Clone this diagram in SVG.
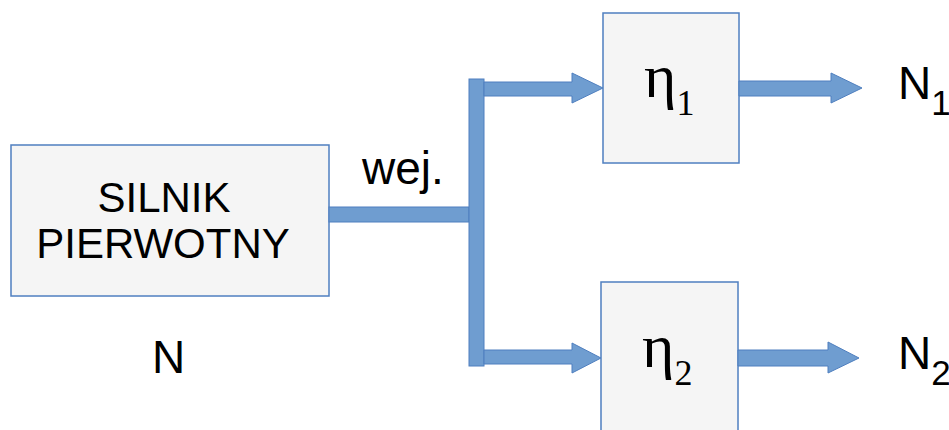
<svg xmlns="http://www.w3.org/2000/svg" width="949" height="430" viewBox="0 0 949 430">
<style>
.box{fill:#f5f5f5;stroke:#4f7fc0;stroke-width:1.5}
.conn{fill:#6f9dd0;stroke:#4f7fbf;stroke-width:1}
.sans{font-family:"Liberation Sans",Arial,sans-serif;fill:#000}
.serif{font-family:"Liberation Serif","Times New Roman",serif;fill:#000}
</style>
<rect width="949" height="430" fill="#ffffff"/>
<g id="silnik">
<rect class="box" x="11" y="145" width="318" height="151"/>
<text class="sans" x="164" y="212" font-size="42" text-anchor="middle">SILNIK</text>
<text class="sans" x="163" y="258" font-size="42" text-anchor="middle">PIERWOTNY</text>
</g>
<g id="eta1">
<rect class="box" x="603" y="13" width="136" height="150"/>
<text class="serif" x="644" y="97" font-size="62">η<tspan font-size="36" dy="18">1</tspan></text>
</g>
<g id="eta2">
<rect class="box" x="601" y="282" width="137" height="160"/>
<text class="serif" x="642" y="367" font-size="62">η<tspan font-size="36" dy="18">2</tspan></text>
</g>
<g id="connectors">
<rect class="conn" x="329" y="207" width="140" height="15"/>
<rect class="conn" x="469" y="79" width="15" height="287"/>
<polygon class="conn" points="484,82 572,82 572,73 603,88 572,103 572,96 484,96"/>
<polygon class="conn" points="484,350 572,350 572,343 601,358 572,373 572,364 484,364"/>
<polygon class="conn" points="739,81 831,81 831,73 862,88 831,103 831,96 739,96"/>
<polygon class="conn" points="738,350 828,350 828,342 859,358 828,373 828,366 738,366"/>
</g>
<g id="labels">
<text class="sans" x="362" y="184" font-size="46">wej.</text>
<text class="sans" x="152" y="373" font-size="46">N</text>
<text class="sans" x="898" y="99" font-size="46">N<tspan font-size="35" dy="16">1</tspan></text>
<text class="sans" x="898" y="369" font-size="46">N<tspan font-size="35" dy="16">2</tspan></text>
</g>
</svg>
